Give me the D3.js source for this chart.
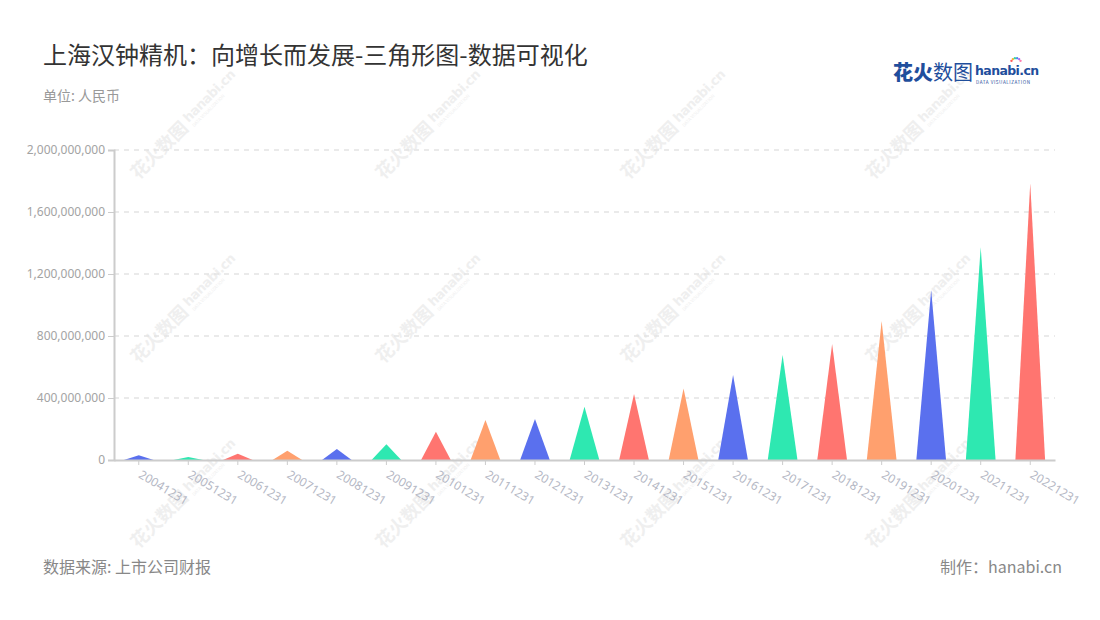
<!DOCTYPE html>
<html><head><meta charset="utf-8">
<script src="https://cdn.jsdelivr.net/npm/d3@7/dist/d3.min.js"></script>
<style>
html,body{margin:0;padding:0;background:#fff;}
svg{display:block;font-family:"Noto Sans CJK SC","Noto Sans",sans-serif;}
</style></head>
<body><svg id="chart" width="1100" height="620"></svg>
<script>
const categories = ["20041231","20051231","20061231","20071231","20081231","20091231","20101231","20111231","20121231","20131231","20141231","20151231","20161231","20171231","20181231","20191231","20201231","20211231","20221231"];
const values = [30000000,19000000,41000000,60000000,71000000,101000000,183000000,258000000,265000000,344000000,426000000,462000000,548000000,677000000,748000000,897000000,1097000000,1372000000,1785000000];
const yTicks = [0,400000000,800000000,1200000000,1600000000,2000000000];
const palette = ["#5a70ee","#2ee8b1","#ff7570","#ffa06e"];

const svg = d3.select("#chart");
const m = {left:114, right:1055, top:150, bottom:460};

// watermarks
const wmX = [168,413,658,903], wmY = [142,326,511];
const wm = svg.append("g");
wmY.forEach(y=>wmX.forEach(x=>{
  const g = wm.append("g").attr("transform",`translate(${x},${y}) rotate(-45)`);
  g.append("text").attr("x",-48).attr("y",6).attr("font-size",18).attr("font-weight",700)
    .attr("fill","#efefef").text("花火数图");
  g.append("text").attr("x",28).attr("y",1).attr("font-size",13).attr("font-weight",700)
    .attr("font-family","DejaVu Sans, sans-serif").attr("fill","#efefef").attr("letter-spacing",-0.5).text("hanabi.cn");
  g.append("text").attr("x",29).attr("y",8).attr("font-size",4.5).attr("fill","#efefef").text("DATA VISUALIZATION");
}));

const x = d3.scaleBand().domain(categories).range([m.left,m.right]);
const y = d3.scaleLinear().domain([0,2000000000]).range([m.bottom,m.top]);

// grid
svg.append("g").selectAll("line").data(yTicks.filter(d=>d>0)).join("line")
  .attr("x1",m.left).attr("x2",m.right).attr("y1",d=>y(d)).attr("y2",d=>y(d))
  .attr("stroke","#e3e3e3").attr("stroke-width",1.5).attr("stroke-dasharray","5,5");

// y axis
const yAxis = svg.append("g").attr("transform",`translate(${m.left},0)`)
  .call(d3.axisLeft(y).tickValues(yTicks).tickSize(6).tickPadding(3).tickFormat(d3.format(",")));
yAxis.select(".domain").attr("stroke","#cccccc").attr("stroke-width",2);
yAxis.selectAll(".tick line").attr("stroke","#cccccc");
yAxis.selectAll("text").attr("fill","#a3a3a3").attr("font-size",12).attr("font-family","Noto Sans, sans-serif");

// triangles
const tw = x.bandwidth()*0.6;
svg.append("g").selectAll("path").data(categories).join("path")
  .attr("d",(c,i)=>{
    const cx = x(c)+x.bandwidth()/2, b = y(0), t = y(values[i]);
    return `M${cx-tw/2},${b}L${cx},${t}L${cx+tw/2},${b}Z`;
  })
  .attr("fill",(c,i)=>palette[i%4]);

// x axis
const xAxis = svg.append("g").attr("transform",`translate(0,${m.bottom})`)
  .call(d3.axisBottom(x).tickSize(5).tickSizeOuter(0));
xAxis.select(".domain").attr("stroke","#cccccc").attr("stroke-width",2);
xAxis.selectAll(".tick line").attr("stroke","#cccccc");
xAxis.selectAll("text").attr("fill","#b4b7c4").attr("font-size",12).attr("font-family","Noto Sans, sans-serif")
  .attr("text-anchor","start").attr("dy",0).attr("y",0)
  .attr("transform","translate(-1,17) rotate(31)");

// titles
svg.append("text").attr("x",43).attr("y",64).attr("font-size",24).attr("fill","#333")
  .text("上海汉钟精机：向增长而发展-三角形图-数据可视化");
svg.append("text").attr("x",43).attr("y",101).attr("font-size",14).attr("fill","#999")
  .text("单位: 人民币");
svg.append("text").attr("x",43).attr("y",573).attr("font-size",16).attr("fill","#888")
  .text("数据来源: 上市公司财报");
svg.append("text").attr("x",1062).attr("y",573).attr("font-size",16).attr("fill","#888")
  .attr("text-anchor","end").text("制作：hanabi.cn");

// logo
const lg = svg.append("g");
lg.append("text").attr("x",893).attr("y",80).attr("font-size",20).attr("font-weight",900)
  .attr("fill","#1f4e9c").text("花火");
lg.append("text").attr("x",933).attr("y",80).attr("font-size",20).attr("font-weight",400)
  .attr("fill","#1f4e9c").text("数图");
lg.append("text").attr("x",975).attr("y",75).attr("font-size",12.5).attr("font-weight",700)
  .attr("font-family","DejaVu Sans, sans-serif").attr("fill","#1f4e9c").attr("letter-spacing",-0.6).text("hanabi.cn");
lg.append("text").attr("x",976).attr("y",84).attr("font-size",4.6).attr("fill","#1f4e9c")
  .attr("letter-spacing",0.55).text("DATA VISUALIZATION");
const dots = ["#ff5a5a","#ffb02e","#3ed3a3","#4a8cf0","#b06ef0","#ff7eb0"];
dots.forEach((c,i)=>{
  const a = -Math.PI/2 + (i-2.5)*0.45;
  lg.append("circle").attr("cx",1016+Math.cos(a)*5).attr("cy",63+Math.sin(a)*5).attr("r",1.2).attr("fill",c);
});
</script></body></html>
